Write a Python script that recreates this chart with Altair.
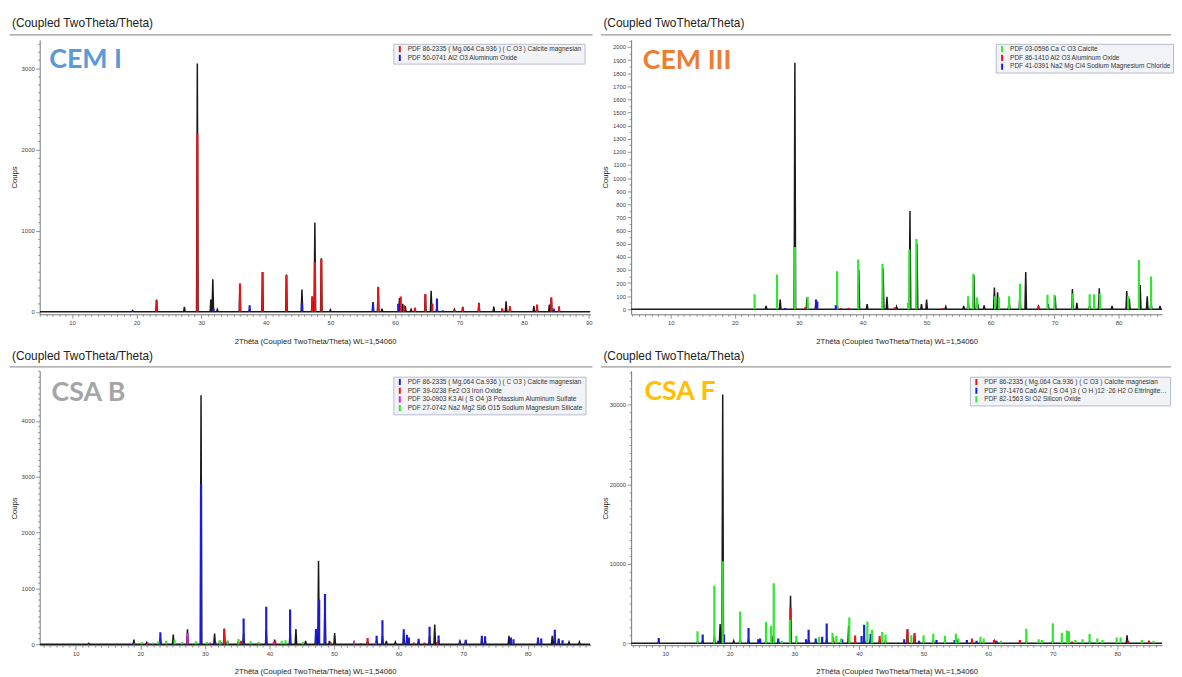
import math
import altair as alt
import pandas as pd

HEADER = "(Coupled TwoTheta/Theta)"
X_TITLE = "2Thêta (Coupled TwoTheta/Theta) WL=1,54060"
Y_TITLE = "Coups"

RED = "#e8141a"
BLUE = "#1c1cd6"
GREEN = "#2ee82e"
MAGENTA = "#e01ee0"

# ---------------- CEM I ----------------
cem1_trace_x = [19.4, 23.1, 27.4, 29.4, 31.5, 31.8, 32.5, 36.0, 37.5, 39.5, 43.2, 45.6, 47.2, 47.6,
                48.6, 50.0, 56.6, 57.4, 58.0, 60.7, 61.2, 61.6, 62.5, 63.1, 64.7, 65.6, 66.5, 69.2,
                70.5, 73.0, 75.3, 76.6, 77.2, 77.8, 81.5, 82.0, 83.9, 84.2, 85.4]
cem1_trace_y = [15, 150, 60, 3060, 150, 400, 30, 350, 40, 490, 460, 275, 190, 1100,
                660, 25, 120, 300, 40, 170, 100, 70, 30, 50, 220, 260, 70, 30,
                60, 110, 65, 40, 130, 60, 70, 60, 90, 170, 50]
cem1_calcite_x = [23.1, 29.4, 36.0, 39.5, 43.2, 47.2, 47.6, 48.6, 57.4, 60.9, 61.4, 63.1, 64.7,
                  65.8, 69.2, 70.5, 73.0, 76.6, 77.8, 82.0, 84.2, 85.4]
cem1_calcite_h = [140, 2200, 345, 490, 450, 190, 610, 650, 310, 190, 80, 50, 220,
                  100, 20, 60, 100, 40, 70, 90, 180, 70]
cem1_alumina_x = [19.4, 31.9, 37.5, 45.6, 56.6, 60.5, 66.5, 67.4, 84.6]
cem1_alumina_h = [15, 40, 80, 110, 110, 100, 165, 20, 40]

# ---------------- CEM III ----------------
cem3_trace_x = [24.9, 27.1, 29.4, 31.3, 32.7, 36.0, 39.4, 40.7, 43.2, 43.8, 45.3, 47.4, 48.5,
                49.2, 50.0, 53.0, 55.8, 56.5, 57.4, 58.0, 59.0, 60.6, 61.1, 62.9, 64.6, 65.5,
                67.5, 69.0, 70.1, 72.8, 73.5, 75.5, 77.0, 79.0, 81.3, 81.7, 83.4, 84.5, 85.1, 86.5]
cem3_trace_y = [25, 75, 1880, 90, 60, 50, 300, 40, 310, 95, 20, 750, 500,
                40, 75, 20, 25, 60, 260, 40, 30, 165, 130, 70, 120, 285,
                20, 40, 100, 155, 50, 30, 160, 25, 140, 80, 185, 100, 60, 25]
cem3_calcite_x = [23.1, 26.6, 29.4, 31.4, 36.0, 39.3, 43.1, 47.1, 47.3, 48.4, 56.5, 57.3, 57.9,
                  60.7, 61.3, 62.9, 64.6, 68.9, 70.0, 72.8, 75.5, 76.2, 77.1, 81.5, 83.2, 85.1]
cem3_calcite_h = [115, 265, 475, 95, 290, 380, 345, 50, 455, 535, 100, 270, 90,
                  100, 90, 100, 195, 110, 110, 120, 115, 115, 120, 100, 375, 250]
cem3_alumina_x = [31.0, 36.6, 37.8, 45.0, 52.5, 67.5]
cem3_alumina_h = [15, 10, 12, 15, 10, 25]
cem3_chloride_x = [27.9, 32.7, 32.9, 35.8]
cem3_chloride_h = [10, 75, 60, 30]

# ---------------- CSA B ----------------
csab_trace_x = [12.0, 19.0, 21.0, 23.1, 25.1, 27.3, 29.4, 31.5, 32.3, 33.0, 33.5, 35.2, 36.0,
                39.5, 40.8, 43.2, 44.1, 45.6, 47.2, 47.6, 48.6, 49.3, 50.1, 53.1, 55.2, 56.6,
                57.5, 58.1, 59.5, 60.8, 61.3, 63.1, 64.8, 65.6, 66.2, 69.5, 70.4, 72.9, 73.4,
                77.1, 81.6, 83.8, 84.2, 84.8, 86.4, 88.0]
csab_trace_y = [15, 80, 30, 120, 170, 265, 4460, 190, 60, 280, 60, 50, 200,
                250, 80, 250, 270, 60, 270, 1495, 880, 60, 200, 40, 60, 80,
                150, 60, 40, 200, 130, 60, 150, 350, 70, 50, 60, 120, 100,
                150, 100, 150, 200, 80, 40, 40]
csab_calcite_x = [23.1, 29.4, 31.6, 36.0, 39.5, 43.2, 47.2, 47.7, 48.6, 56.6, 57.5, 60.8, 61.3,
                  61.6, 63.1, 64.8, 66.2, 69.5, 70.4, 72.9, 73.4, 77.4, 77.8, 81.6, 82.1, 84.2,
                  84.8, 85.4]
csab_calcite_h = [215, 2870, 40, 460, 670, 620, 260, 800, 900, 150, 430, 265, 170,
                  120, 95, 310, 155, 60, 80, 150, 140, 120, 90, 120, 100, 260,
                  100, 70]
csab_iron_x = [24.1, 33.0, 35.6, 40.9, 49.5, 54.1, 55.2, 62.4, 64.0, 66.0]
csab_iron_h = [20, 270, 60, 60, 30, 20, 110, 30, 30, 40]
csab_sulfate_x = [19.1, 21.2, 27.3, 30.8, 32.5, 40.6, 53.1, 56.4]
csab_sulfate_h = [20, 30, 200, 30, 40, 30, 40, 20]
csab_silicate_x = [20.2, 21.9, 22.8, 24.0, 25.3, 26.5, 28.6, 30.3, 32.3, 33.5, 35.2, 37.1, 38.3,
                   41.9, 42.5, 45.2]
csab_silicate_h = [40, 30, 50, 60, 80, 40, 50, 40, 70, 60, 90, 50, 40, 60, 70, 40]

# ---------------- CSA F ----------------
csaf_trace_x = [9.0, 15.0, 15.8, 17.6, 18.5, 18.9, 20.6, 21.6, 22.9, 24.6, 25.6, 26.7, 27.5,
                29.4, 30.3, 32.2, 33.3, 35.0, 36.0, 38.4, 39.4, 40.8, 41.8, 43.2, 44.1, 47.5,
                48.6, 50.0, 51.5, 53.3, 55.2, 57.5, 58.8, 61.0, 64.9, 65.9, 70.0, 72.3, 75.7,
                81.5, 84.9]
csaf_trace_y = [300, 200, 400, 1000, 2400, 31300, 300, 600, 500, 300, 400, 900, 300,
                5980, 200, 400, 300, 500, 500, 2200, 300, 700, 600, 500, 300, 1700,
                1100, 200, 300, 300, 300, 400, 200, 300, 200, 300, 300, 300, 200,
                1000, 200]
csaf_calcite_x = [29.4, 36.0, 39.4, 43.2, 47.5, 48.6, 57.5, 60.9, 64.9, 73.0, 81.7, 84.9]
csaf_calcite_h = [4400, 700, 950, 900, 1780, 1290, 600, 400, 400, 200, 300, 300]
csaf_ettringite_x = [9.0, 15.8, 18.2, 19.1, 22.9, 24.4, 24.7, 27.5, 31.8, 32.2, 33.3, 34.3, 35.0,
                     37.4, 40.4, 40.8, 41.8, 47.0, 49.3, 52.0, 54.8, 56.7, 58.2, 61.3]
csaf_ettringite_h = [660, 1080, 300, 1080, 1900, 500, 600, 600, 500, 1700, 600, 800, 2490,
                     500, 900, 2320, 1200, 500, 300, 400, 400, 400, 300, 300]
csaf_quartz_x = [15.0, 17.6, 18.9, 21.6, 25.6, 26.4, 26.8, 28.0, 29.3, 30.3, 33.8, 35.9, 36.5,
                 37.2, 38.5, 41.3, 42.0, 43.6, 44.1, 48.1, 50.0, 51.5, 53.3, 55.0, 55.4, 58.8,
                 59.3, 62.0, 65.9, 67.8, 68.3, 70.0, 71.4, 72.2, 72.5, 73.5, 74.6, 75.7, 76.9,
                 77.7, 79.9, 80.5, 83.8, 85.6]
csaf_quartz_h = [1500, 7220, 10300, 3980, 2650, 2200, 7550, 300, 2950, 900, 800, 1300, 900,
                 600, 3240, 2740, 1700, 1400, 1100, 1000, 1000, 1200, 900, 1200, 600, 800,
                 600, 300, 1800, 500, 400, 2500, 1300, 1600, 1500, 400, 500, 1200, 600,
                 400, 700, 700, 400, 300]

PH_CALCITE_MG = "PDF 86-2335 ( Mg.064 Ca.936 ) ( C O3 ) Calcite magnesian"

panels = [
    dict(name="CEM I", name_color="#5b9bd5", W=556, xdom=[5.0, 90.27], ydom=[-30, 3350],
         ystep=100, ymajor=1000, legend=(357, 4), label=(9.6, 28.7), header_y=-13, rule_y=-5,
         rule_x2=558, top=True, labelLimit=260,
         trace=(cem1_trace_x, cem1_trace_y),
         phases=[(PH_CALCITE_MG, RED, cem1_calcite_x, cem1_calcite_h),
                 ("PDF 50-0741 Al2 O3 Aluminum Oxide", BLUE, cem1_alumina_x, cem1_alumina_h)]),
    dict(name="CEM III", name_color="#ed7d31", W=536, xdom=[3.79, 86.83], ydom=[-38, 2054],
         ystep=50, ymajor=100, legend=(368, 4), label=(11.8, 29.7), header_y=-13, rule_y=-5,
         rule_x2=545, top=True, labelLimit=260,
         trace=(cem3_trace_x, cem3_trace_y),
         phases=[("PDF 03-0596 Ca C O3 Calcite", GREEN, cem3_calcite_x, cem3_calcite_h),
                 ("PDF 86-1410 Al2 O3 Aluminum Oxide", RED, cem3_alumina_x, cem3_alumina_h),
                 ("PDF 41-0391 Na2 Mg Cl4 Sodium Magnesium Chloride", BLUE, cem3_chloride_x, cem3_chloride_h)]),
    dict(name="CSA B", name_color="#a5a5a5", W=556, xdom=[4.41, 89.73], ydom=[-18, 4900],
         ystep=100, ymajor=1000, legend=(357, 6), label=(12.0, 30.3), header_y=-10.5, rule_y=-4,
         rule_x2=558, top=False, labelLimit=260,
         trace=(csab_trace_x, csab_trace_y),
         phases=[(PH_CALCITE_MG, BLUE, csab_calcite_x, csab_calcite_h),
                 ("PDF 39-0238 Fe2 O3 Iron Oxide", RED, csab_iron_x, csab_iron_h),
                 ("PDF 30-0903 K3 Al ( S O4 )3 Potassium Aluminum Sulfate", MAGENTA, csab_sulfate_x, csab_sulfate_h),
                 ("PDF 27-0742 Na2 Mg2 Si6 O15 Sodium Magnesium Silicate", GREEN, csab_silicate_x, csab_silicate_h)]),
    dict(name="CSA F", name_color="#ffc000", W=536, xdom=[4.72, 86.93], ydom=[-250, 34300],
         ystep=1000, ymajor=10000, legend=(342, 6), label=(13.4, 29.7), header_y=-10.5, rule_y=-4,
         rule_x2=545, top=False, labelLimit=186,
         trace=(csaf_trace_x, csaf_trace_y),
         phases=[(PH_CALCITE_MG, RED, csaf_calcite_x, csaf_calcite_h),
                 ("PDF 37-1476 Ca6 Al2 ( S O4 )3 ( O H )12 ·26 H2 O Ettringite, syn", BLUE, csaf_ettringite_x, csaf_ettringite_h),
                 ("PDF 82-1563 Si O2 Silicon Oxide", GREEN, csaf_quartz_x, csaf_quartz_h)]),
]

H = 277


def trace_frame(xs, ys, x0, x1, half=0.12):
    pts = [(x0, 0.0), (x1, 0.0)]
    for x, y in zip(xs, ys):
        pts.extend([(x - half, 0.0), (x, float(y)), (x + half, 0.0)])
    pts.sort()
    return pd.DataFrame(pts, columns=["x", "y"])


def make_panel(p):
    W = p["W"]
    x0, x1 = p["xdom"]
    y0, y1 = p["ydom"]
    xs = alt.Scale(domain=p["xdom"], nice=False, zero=False)
    ys = alt.Scale(domain=p["ydom"], nice=False, zero=False)
    xvals = list(range(math.ceil(x0), math.floor(x1) + 1))
    yvals = list(range(0, int(y1 // p["ystep"] * p["ystep"]) + 1, p["ystep"]))
    xaxis = alt.Axis(values=xvals, format="d", labelOverlap=False,
                     labelExpr="datum.value % 10 === 0 ? datum.label : ''",
                     tickSize={"condition": {"test": "datum.value % 10 === 0", "value": 4}, "value": 2},
                     labelPadding=1, title=X_TITLE, titleY=27, titleBaseline="middle")
    yaxis = alt.Axis(values=yvals, format="d", labelOverlap=False,
                     labelExpr=f"datum.value % {p['ymajor']} === 0 ? datum.label : ''",
                     tickSize={"condition": {"test": f"datum.value % {p['ymajor']} === 0", "value": 4}, "value": 2},
                     labelPadding=1.5, title=Y_TITLE, titleX=-25.5, titleY=H / 2,
                     titleAngle=-90, titleAlign="center", titleBaseline="middle")

    tdf = trace_frame(p["trace"][0], p["trace"][1], x0, x1)
    trace = alt.Chart(tdf).mark_line(color="#1a1a1a", strokeWidth=1.5, clip=True).encode(
        x=alt.X("x:Q", scale=xs, axis=xaxis),
        y=alt.Y("y:Q", scale=ys, axis=yaxis),
    )

    rows = []
    for name, col, sx, sh in p["phases"]:
        for x, h in zip(sx, sh):
            rows.append({"x": x, "h": h, "base": 0, "phase": name})
    sdf = pd.DataFrame(rows)
    lx, ly = p["legend"]
    sticks = alt.Chart(sdf).mark_rule(strokeWidth=2.2, clip=True).encode(
        x=alt.X("x:Q", scale=xs, axis=xaxis),
        y=alt.Y("base:Q", scale=ys, axis=yaxis),
        y2="h:Q",
        color=alt.Color("phase:N",
                        scale=alt.Scale(domain=[ph[0] for ph in p["phases"]],
                                        range=[ph[1] for ph in p["phases"]]),
                        legend=alt.Legend(title=None, orient="none", legendX=lx, legendY=ly,
                                          labelFontSize=6.6, labelFont="Liberation Sans",
                                          labelColor="#333333", labelLimit=p["labelLimit"],
                                          symbolType="M0,-1L0,1", symbolSize=40,
                                          symbolStrokeWidth=2, labelOffset=3.5,
                                          rowPadding=1.8, padding=2, clipHeight=6.6,
                                          fillColor="#f1f3f7", strokeColor="#b4bccb",
                                          cornerRadius=0)),
    )

    one = pd.DataFrame({"t": [HEADER], "n": [p["name"]]})
    header = alt.Chart(one).mark_text(align="left", baseline="alphabetic", fontSize=12,
                                      font="Liberation Sans", color="#222222").encode(
        x=alt.value(-28), y=alt.value(p["header_y"]), text="t:N")
    hrule = alt.Chart(one).mark_rule(color="#9a9a9a", strokeWidth=1.3).encode(
        x=alt.value(-30.5), x2=alt.value(p["rule_x2"]), y=alt.value(p["rule_y"]))
    label = alt.Chart(one).mark_text(align="left", baseline="alphabetic", fontSize=27,
                                     font="Lato", fontWeight="bold", color=p["name_color"]).encode(
        x=alt.value(p["label"][0]), y=alt.value(p["label"][1]), text="n:N")

    layers = [trace, sticks, header, hrule, label]
    if p["top"]:
        pin = alt.Chart(one).mark_rule(color="#ffffff", strokeWidth=0.01).encode(
            x=alt.value(0), x2=alt.value(10), y=alt.value(-28))
        layers.append(pin)
    return alt.layer(*layers).properties(width=W, height=H)


charts = [make_panel(p) for p in panels]

chart = alt.concat(
    *charts, columns=2, spacing={"row": 57, "column": 41}, bounds="flush", padding=0
).resolve_scale(
    color="independent", x="independent", y="independent"
).configure_view(
    stroke=None
).configure_axis(
    grid=False, labelFont="Liberation Sans", titleFont="Liberation Sans",
    labelFontSize=6, titleFontSize=7.7, titleFontWeight="normal",
    labelColor="#444444", titleColor="#222222",
    domainColor="#777777", tickColor="#777777", domainWidth=1, tickWidth=0.8,
)

chart.save("out.html", embed_options={"renderer": "svg", "actions": False})
